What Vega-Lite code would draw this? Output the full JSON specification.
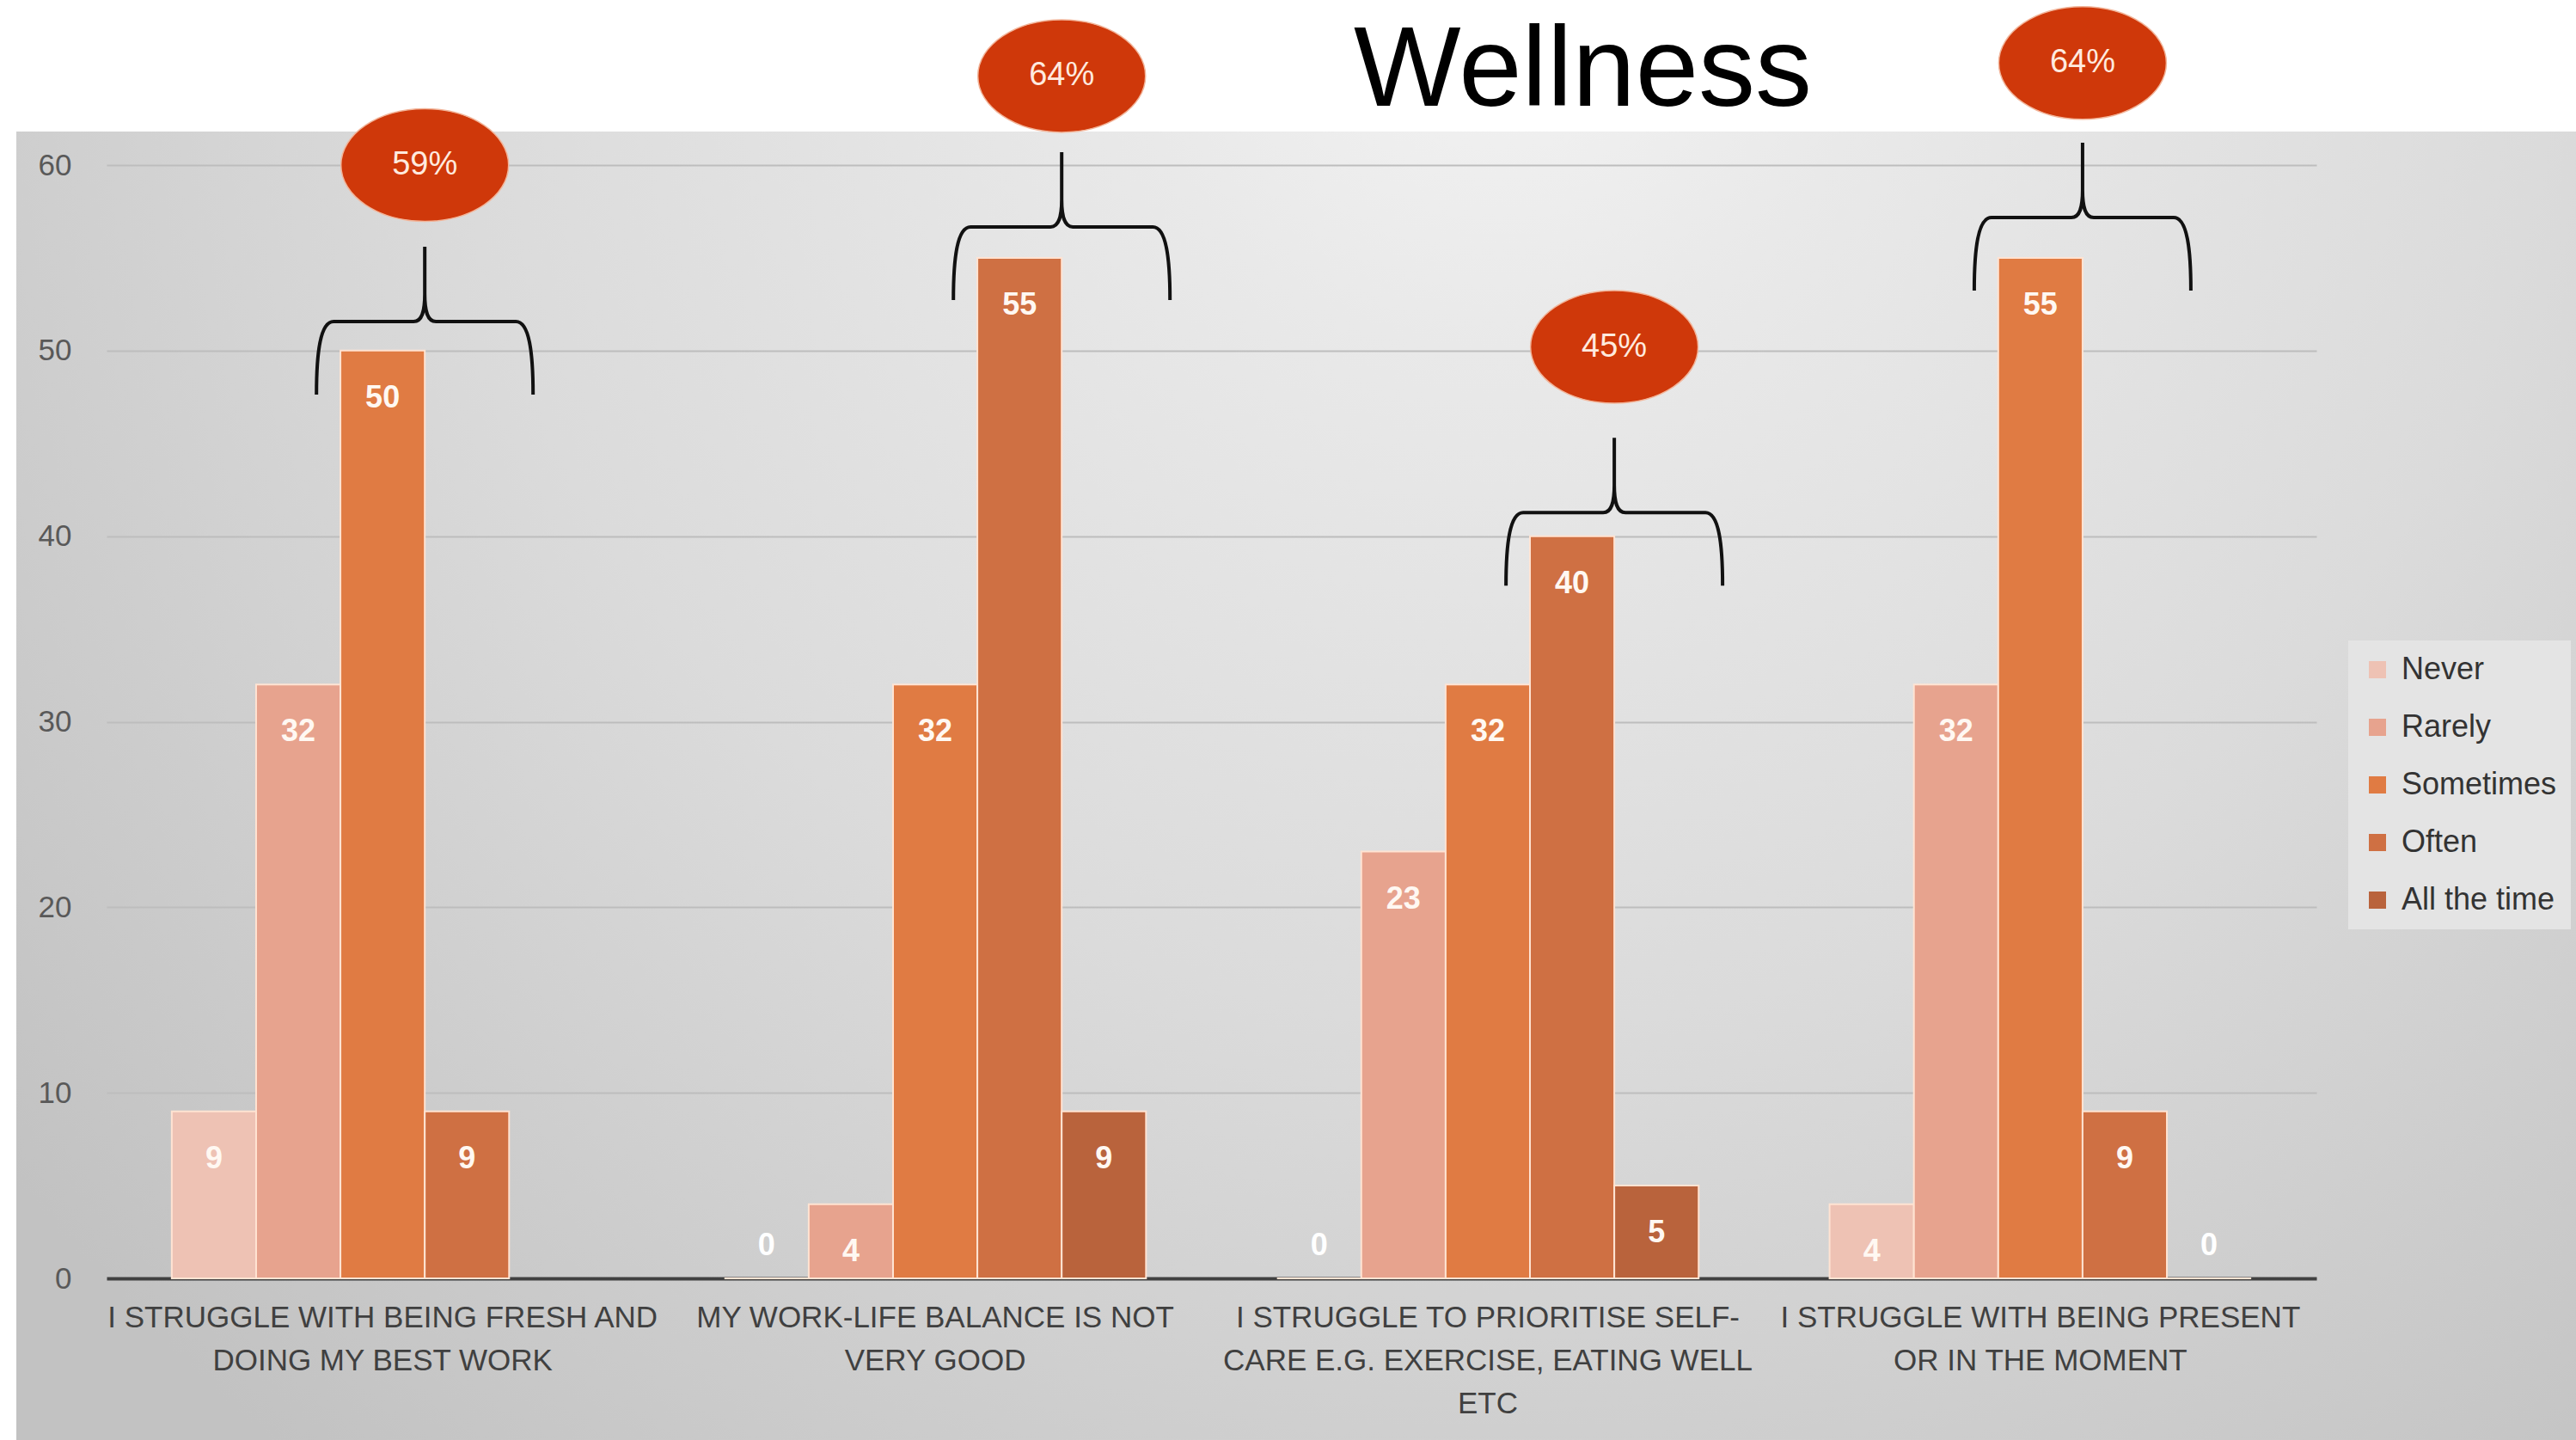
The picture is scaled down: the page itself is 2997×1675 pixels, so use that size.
{
  "$schema": "https://vega.github.io/schema/vega-lite/v6.json",
  "width": 2978,
  "height": 1522,
  "autosize": {"type": "none"},
  "padding": {"left": 19, "top": 153, "right": 0, "bottom": 0},
  "background": "#FFFFFF",
  "title": {
    "text": "Wellness",
    "font": "Liberation Sans",
    "fontSize": 132,
    "fontWeight": "normal",
    "color": "#000000",
    "anchor": "start",
    "frame": "group",
    "dx": 1556,
    "offset": -146
  },
  "datasets": {
    "bars": [
      {"statement": "I STRUGGLE WITH BEING FRESH AND DOING MY BEST WORK", "response": "Never", "count": 9},
      {"statement": "I STRUGGLE WITH BEING FRESH AND DOING MY BEST WORK", "response": "Rarely", "count": 32},
      {"statement": "I STRUGGLE WITH BEING FRESH AND DOING MY BEST WORK", "response": "Sometimes", "count": 50},
      {"statement": "I STRUGGLE WITH BEING FRESH AND DOING MY BEST WORK", "response": "Often", "count": 9},
      {"statement": "MY WORK-LIFE BALANCE IS NOT VERY GOOD", "response": "Never", "count": 0},
      {"statement": "MY WORK-LIFE BALANCE IS NOT VERY GOOD", "response": "Rarely", "count": 4},
      {"statement": "MY WORK-LIFE BALANCE IS NOT VERY GOOD", "response": "Sometimes", "count": 32},
      {"statement": "MY WORK-LIFE BALANCE IS NOT VERY GOOD", "response": "Often", "count": 55},
      {"statement": "MY WORK-LIFE BALANCE IS NOT VERY GOOD", "response": "All the time", "count": 9},
      {"statement": "I STRUGGLE TO PRIORITISE SELF-CARE E.G. EXERCISE, EATING WELL ETC", "response": "Never", "count": 0},
      {"statement": "I STRUGGLE TO PRIORITISE SELF-CARE E.G. EXERCISE, EATING WELL ETC", "response": "Rarely", "count": 23},
      {"statement": "I STRUGGLE TO PRIORITISE SELF-CARE E.G. EXERCISE, EATING WELL ETC", "response": "Sometimes", "count": 32},
      {"statement": "I STRUGGLE TO PRIORITISE SELF-CARE E.G. EXERCISE, EATING WELL ETC", "response": "Often", "count": 40},
      {"statement": "I STRUGGLE TO PRIORITISE SELF-CARE E.G. EXERCISE, EATING WELL ETC", "response": "All the time", "count": 5},
      {"statement": "I STRUGGLE WITH BEING PRESENT OR IN THE MOMENT", "response": "Never", "count": 4},
      {"statement": "I STRUGGLE WITH BEING PRESENT OR IN THE MOMENT", "response": "Rarely", "count": 32},
      {"statement": "I STRUGGLE WITH BEING PRESENT OR IN THE MOMENT", "response": "Sometimes", "count": 55},
      {"statement": "I STRUGGLE WITH BEING PRESENT OR IN THE MOMENT", "response": "Often", "count": 9},
      {"statement": "I STRUGGLE WITH BEING PRESENT OR IN THE MOMENT", "response": "All the time", "count": 0}
    ],
    "notes": [
      {"statement": "I STRUGGLE WITH BEING FRESH AND DOING MY BEST WORK", "edge": "e3", "brace_tip": 55.6, "bubble_y": 60.0, "share": "59%"},
      {"statement": "MY WORK-LIFE BALANCE IS NOT VERY GOOD", "edge": "e4", "brace_tip": 60.7, "bubble_y": 64.8, "share": "64%"},
      {"statement": "I STRUGGLE TO PRIORITISE SELF-CARE E.G. EXERCISE, EATING WELL ETC", "edge": "e4", "brace_tip": 45.3, "bubble_y": 50.2, "share": "45%"},
      {"statement": "I STRUGGLE WITH BEING PRESENT OR IN THE MOMENT", "edge": "e3", "brace_tip": 61.2, "bubble_y": 65.5, "share": "64%"}
    ]
  },
  "config": {
    "font": "Liberation Sans",
    "view": {
      "stroke": null,
      "fill": {
        "gradient": "radial",
        "x1": 0.58, "y1": 0.18, "r1": 0,
        "x2": 0.58, "y2": 0.18, "r2": 0.75,
        "stops": [
          {"offset": 0, "color": "#F4F4F4"},
          {"offset": 0.2, "color": "#E9E9E9"},
          {"offset": 0.55, "color": "#DBDBDB"},
          {"offset": 0.8, "color": "#CDCDCD"},
          {"offset": 1, "color": "#C2C2C2"}
        ]
      }
    }
  },
  "resolve": {"scale": {"xOffset": "independent"}},
  "layer": [
    {
      "data": {"name": "bars"},
      "mark": {"type": "bar", "stroke": "#FFE3D2", "strokeWidth": 2},
      "encoding": {
        "x": {
          "field": "statement", "type": "nominal", "sort": null,
          "scale": {
            "domain": [
              "I STRUGGLE WITH BEING FRESH AND DOING MY BEST WORK",
              "MY WORK-LIFE BALANCE IS NOT VERY GOOD",
              "I STRUGGLE TO PRIORITISE SELF-CARE E.G. EXERCISE, EATING WELL ETC",
              "I STRUGGLE WITH BEING PRESENT OR IN THE MOMENT"
            ],
            "range": [105, 2676],
            "paddingInner": 0.237,
            "paddingOuter": 0.118
          },
          "axis": {
            "title": null,
            "orient": "bottom",
            "offset": -188,
            "domainColor": "#404040",
            "domainWidth": 4,
            "ticks": false,
            "grid": false,
            "labelAngle": 0,
            "labelFont": "Liberation Sans",
            "labelFontSize": 35,
            "labelColor": "#404040",
            "labelPadding": 28,
            "labelLineHeight": 50,
            "labelLimit": 2000,
            "labelOverlap": false,
            "labelExpr": "indexof(datum.value, 'FRESH') >= 0 ? ['I STRUGGLE WITH BEING FRESH AND', 'DOING MY BEST WORK'] : indexof(datum.value, 'WORK-LIFE') >= 0 ? ['MY WORK-LIFE BALANCE IS NOT', 'VERY GOOD'] : indexof(datum.value, 'SELF-CARE') >= 0 ? ['I STRUGGLE TO PRIORITISE SELF-', 'CARE E.G. EXERCISE, EATING WELL', 'ETC'] : ['I STRUGGLE WITH BEING PRESENT', 'OR IN THE MOMENT']"
          }
        },
        "xOffset": {
          "field": "response", "type": "nominal", "sort": null,
          "scale": {"type": "band", "domain": ["Never", "Rarely", "Sometimes", "Often", "All the time"], "paddingInner": 0, "paddingOuter": 0}
        },
        "y": {
          "field": "count", "type": "quantitative",
          "scale": {"domain": [0, 60], "range": [1334, 39], "nice": false, "zero": true},
          "axis": {
            "title": null,
            "values": [0, 10, 20, 30, 40, 50, 60],
            "domain": false,
            "ticks": false,
            "offset": -70,
            "labelPadding": 6,
            "labelFont": "Liberation Sans",
            "labelFontSize": 35,
            "labelColor": "#595959",
            "grid": true,
            "gridColor": "#BDBDBD",
            "gridWidth": 2
          }
        },
        "color": {
          "field": "response", "type": "nominal",
          "scale": {
            "domain": ["Never", "Rarely", "Sometimes", "Often", "All the time"],
            "range": ["#EEC2B4", "#E7A38E", "#E07B43", "#CF7043", "#B9633C"]
          },
          "legend": {
            "title": null,
            "orient": "none",
            "legendX": 2713,
            "legendY": 592,
            "symbolType": "square",
            "symbolSize": 400,
            "symbolStrokeWidth": 0,
            "labelFont": "Liberation Sans",
            "labelFontSize": 36,
            "labelColor": "#333333",
            "labelOffset": 10,
            "labelLimit": 400,
            "fillColor": "#E4E4E4",
            "padding": 16,
            "rowPadding": 31
          }
        }
      }
    },
    {
      "data": {"name": "bars"},
      "transform": [{"filter": "datum.count > 0"}],
      "mark": {"type": "text", "dy": 55, "baseline": "middle", "font": "Liberation Sans", "fontSize": 36, "fontWeight": "bold", "color": "#FFF8F2"},
      "encoding": {
        "x": {"field": "statement", "type": "nominal", "sort": null},
        "xOffset": {
          "field": "response", "type": "nominal", "sort": null,
          "scale": {"type": "band", "domain": ["Never", "Rarely", "Sometimes", "Often", "All the time"], "paddingInner": 0, "paddingOuter": 0}
        },
        "y": {"field": "count", "type": "quantitative"},
        "text": {"field": "count", "type": "quantitative"}
      }
    },
    {
      "data": {"name": "bars"},
      "transform": [{"filter": "datum.count == 0"}],
      "mark": {"type": "text", "dy": -38, "baseline": "middle", "font": "Liberation Sans", "fontSize": 36, "fontWeight": "bold", "color": "#FFFFFF"},
      "encoding": {
        "x": {"field": "statement", "type": "nominal", "sort": null},
        "xOffset": {
          "field": "response", "type": "nominal", "sort": null,
          "scale": {"type": "band", "domain": ["Never", "Rarely", "Sometimes", "Often", "All the time"], "paddingInner": 0, "paddingOuter": 0}
        },
        "y": {"field": "count", "type": "quantitative"},
        "text": {"field": "count", "type": "quantitative"}
      }
    },
    {
      "data": {"name": "notes"},
      "mark": {
        "type": "point",
        "shape": "M -1.26 1.72 C -1.26 1.25 -1.22 0.87 -1.06 0.87 L -0.13 0.87 C -0.03 0.87 0 0.75 0 0.55 L 0 0 M 0 0.55 C 0 0.75 0.03 0.87 0.13 0.87 L 1.06 0.87 C 1.22 0.87 1.26 1.25 1.26 1.72",
        "size": 40000,
        "filled": false,
        "stroke": "#111111",
        "strokeWidth": 4,
        "opacity": 1
      },
      "encoding": {
        "x": {"field": "statement", "type": "nominal", "sort": null},
        "xOffset": {
          "field": "edge", "type": "nominal",
          "scale": {"type": "point", "domain": ["e0", "e1", "e2", "e3", "e4", "e5"], "padding": 0}
        },
        "y": {"field": "brace_tip", "type": "quantitative"}
      }
    },
    {
      "data": {"name": "notes"},
      "mark": {
        "type": "point",
        "shape": "M -0.975 0 C -0.975 -0.3618 -0.5385 -0.655 0 -0.655 C 0.5385 -0.655 0.975 -0.3618 0.975 0 C 0.975 0.3618 0.5385 0.655 0 0.655 C -0.5385 0.655 -0.975 0.3618 -0.975 0 Z",
        "size": 40000,
        "filled": true,
        "fill": "#CF380A",
        "stroke": "#F2B59A",
        "strokeWidth": 1.5,
        "opacity": 1
      },
      "encoding": {
        "x": {"field": "statement", "type": "nominal", "sort": null},
        "xOffset": {
          "field": "edge", "type": "nominal",
          "scale": {"type": "point", "domain": ["e0", "e1", "e2", "e3", "e4", "e5"], "padding": 0}
        },
        "y": {"field": "bubble_y", "type": "quantitative"}
      }
    },
    {
      "data": {"name": "notes"},
      "mark": {"type": "text", "baseline": "middle", "font": "Liberation Sans", "fontSize": 38, "color": "#FFEADF"},
      "encoding": {
        "x": {"field": "statement", "type": "nominal", "sort": null},
        "xOffset": {
          "field": "edge", "type": "nominal",
          "scale": {"type": "point", "domain": ["e0", "e1", "e2", "e3", "e4", "e5"], "padding": 0}
        },
        "y": {"field": "bubble_y", "type": "quantitative"},
        "text": {"field": "share", "type": "nominal"}
      }
    }
  ]
}
